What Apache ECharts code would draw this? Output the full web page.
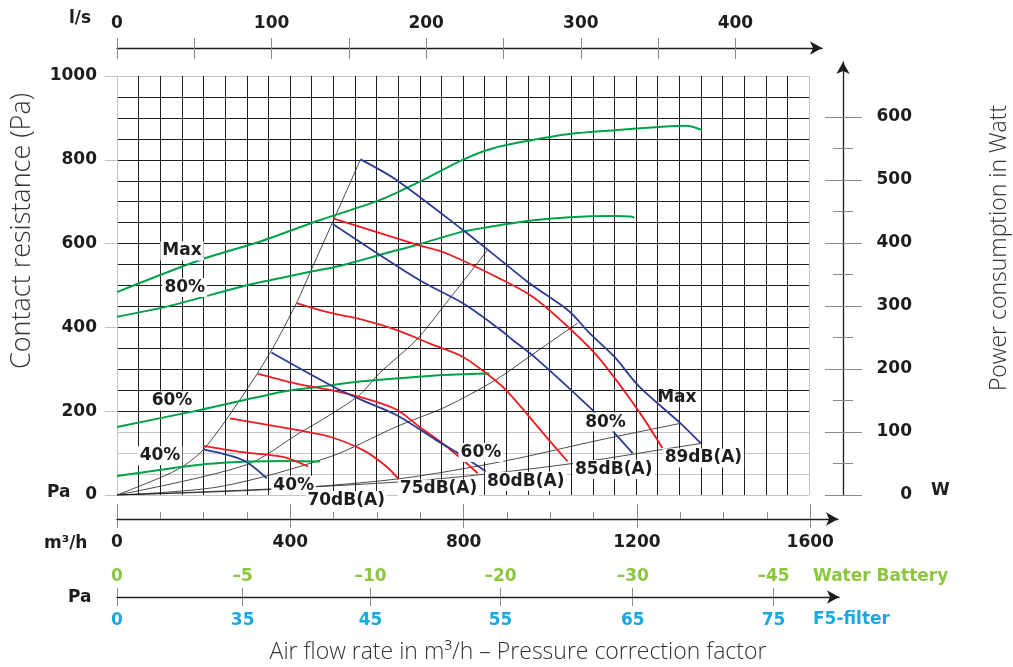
<!DOCTYPE html>
<html>
<head>
<meta charset="utf-8">
<title>Fan curves</title>
<script src="https://cdn.jsdelivr.net/npm/echarts@6/dist/echarts.min.js"></script>
<style>
  html, body { margin: 0; padding: 0; background: #fff; }
  #chart { width: 1013px; height: 667px; }
</style>
</head>
<body>
<div id="chart"></div>
<script>
// axis ticks / labels
const flowLabels = [0, 400, 800, 1200, 1600]
const flowTicks = [0, 100, 200, 300, 400, 500, 600, 700, 800, 900, 1000, 1100, 1200, 1300, 1400, 1500, 1600]
const lsLabels = [0, 100, 200, 300, 400]
const lsTicks = [0, 50, 100, 150, 200, 250, 300, 350, 400]
const wattMajor = [0, 100, 200, 300, 400, 500, 600]
const wattMinor = [50, 150, 250, 350, 450, 550]

// pressure correction factors (flow m3/h -> Pa)
const corrFlow = [0, 290, 585, 885, 1190, 1515]
const waterPa = [0, -5, -10, -20, -30, -45]
const filterPa = [0, 35, 45, 55, 65, 75]

// power consumption [m3/h, W]
const powerMax = [[0, 322], [192, 373], [330, 402], [468, 436], [607, 468], [699, 497], [799, 532], [868, 550], [949, 562], [1046, 573], [1150, 579], [1253, 584], [1316, 586], [1353, 579]]
const power80 = [[0, 283], [115, 299], [307, 334], [376, 344], [452, 355], [499, 361], [561, 372], [607, 381], [699, 398], [799, 418], [884, 428], [949, 435], [1046, 441], [1150, 443], [1188, 442], [1196, 440]]
const power60 = [[0, 108], [192, 135], [392, 165], [492, 174], [561, 180], [722, 189], [815, 192], [861, 193]]
const power40 = [[0, 30], [192, 48], [307, 53], [399, 54], [469, 53]]

// fan curves [m3/h, Pa]
const fanMax = [[563, 801], [646, 752], [799, 633], [884, 563], [949, 509], [976, 489], [1046, 438], [1092, 387], [1150, 330], [1207, 259], [1303, 171], [1350, 123]]
const fan80 = [[499, 647], [699, 513], [799, 458], [884, 396], [915, 370], [969, 326], [1099, 203], [1142, 157], [1192, 100]]
const fan60 = [[357, 340], [499, 259], [565, 227], [646, 191], [738, 131], [788, 100], [853, 56]]
const fan40 = [[199, 109], [292, 83], [346, 40]]

// sound levels [m3/h, Pa]
const noise89 = [[499, 660], [695, 597], [761, 577], [884, 517], [961, 473], [1046, 398], [1115, 326], [1207, 199], [1261, 112]]
const noise85 = [[415, 458], [492, 435], [569, 418], [646, 394], [722, 362], [799, 330], [853, 291], [899, 251], [953, 187], [999, 131], [1042, 80]]
const noise80 = [[326, 289], [422, 264], [492, 251], [569, 232], [646, 204], [699, 163], [753, 123], [799, 84], [834, 52]]
const noise75 = [[261, 183], [422, 154], [492, 139], [569, 107], [623, 68], [651, 38]]
const noise70 = [[199, 117], [284, 103], [384, 91], [442, 68]]

// system curves [m3/h, Pa]
const sysA = [[0, 0], [99, 41], [152, 68], [203, 112], [284, 227], [353, 338], [415, 458], [446, 530], [499, 652], [563, 801]]
const sysB = [[0, 0], [299, 72], [422, 148], [492, 191], [561, 239], [607, 291], [692, 370], [761, 458], [857, 585]]
const sysC = [[0, 0], [238, 20], [492, 91], [646, 163], [761, 211], [876, 275], [953, 330], [1065, 410]]
const sysD = [[0, 0], [350, 13], [646, 38], [891, 80], [1115, 131], [1303, 171]]
const sysE = [[0, 0], [345, 14], [715, 36], [1030, 72], [1300, 115], [1350, 123]]

const INK = '#1d1d1b'
const GRAY = '#c4c4c4'
const TICK = '#8a8a8a'
const BLUE = '#2e3a92'
const RED = '#ec1c24'
const GREEN = '#00a14b'
const WATER = '#8cc63f'
const FILTER = '#1ba8dd'
const FONT = 'DejaVu Sans'
const THIN = 'Open Sans'

const paGridColors = []
for (let v = 0; v <= 1000; v += 50) paGridColors.push(v < 200 || v === 1000 ? GRAY : INK)
const flowGridColors = []
for (let v = 0; v <= 1600; v += 50) flowGridColors.push(v === 0 || v === 1600 ? GRAY : INK)

const last = arr => arr[arr.length - 1]
const plain = v => String(v)
const labelText = { fontSize: 17, fontFamily: FONT, fontWeight: 'bold', color: INK }
const arrow = { onZero: false, symbol: ['none', 'arrow'], symbolSize: [10, 12], lineStyle: { color: INK, width: 1.3 } }
const noLine = { show: false, onZero: false }

function hiddenAxis(gridIndex) {
  return { gridIndex, type: 'value', show: false, min: 0, max: 1 }
}

function curve(data, color, width, yAxisIndex, z) {
  return {
    type: 'line',
    xAxisIndex: 0,
    yAxisIndex,
    data,
    smooth: 0.3,
    symbol: 'none',
    silent: true,
    z,
    lineStyle: { color, width }
  }
}

function tag(point, text, offset, bg) {
  return {
    value: point,
    label: { formatter: text, offset, backgroundColor: bg ? '#fff' : 'transparent' }
  }
}

function text(x, y, str, fill, size, extra) {
  return Object.assign({
    type: 'text', x, y,
    style: { text: str, textAlign: 'left', textVerticalAlign: 'middle', fill, fontSize: size, fontWeight: 'bold', fontFamily: FONT }
  }, extra || {})
}

const chart = echarts.init(document.getElementById('chart'))

chart.setOption({
  animation: false,
  backgroundColor: '#fff',
  grid: [
    { left: 117, top: 76, width: 692, height: 419, outerBoundsMode: 'none' },
    { left: 843, top: 62, width: 1, height: 433, outerBoundsMode: 'none' },
    { left: 117, top: 48, width: 705, height: 1, outerBoundsMode: 'none' },
    { left: 117, top: 519, width: 721, height: 1, outerBoundsMode: 'none' },
    { left: 117, top: 597, width: 722, height: 1, outerBoundsMode: 'none' }
  ],
  xAxis: [
    {
      gridIndex: 0, type: 'value', min: 0, max: 1600, interval: 50, position: 'bottom',
      axisLine: noLine, axisTick: { show: false }, axisLabel: { show: false },
      splitLine: { show: true, lineStyle: { color: flowGridColors, width: 1 } }
    },
    hiddenAxis(1),
    {
      gridIndex: 2, type: 'value', min: 0, max: 456, interval: 50, position: 'top',
      axisLine: arrow,
      axisTick: { customValues: lsTicks, length: 10, lineStyle: { color: TICK } },
      axisLabel: Object.assign({ customValues: lsLabels, margin: 16, formatter: plain }, labelText),
      splitLine: { show: false }
    },
    {
      gridIndex: 2, type: 'value', min: 0, max: 456, interval: 50, position: 'top',
      axisLine: noLine,
      axisTick: { inside: true, customValues: lsTicks, length: 11, lineStyle: { color: TICK } },
      axisLabel: { show: false }, splitLine: { show: false }
    },
    {
      gridIndex: 3, type: 'value', min: 0, max: 1664, interval: 100, position: 'top',
      axisLine: arrow,
      axisTick: { customValues: flowTicks, length: 7, lineStyle: { color: TICK } },
      axisLabel: { show: false }, splitLine: { show: false }
    },
    {
      gridIndex: 3, type: 'value', min: 0, max: 1664, interval: 400, position: 'top',
      axisLine: noLine,
      axisTick: { customValues: flowLabels, length: 15, lineStyle: { color: TICK } },
      axisLabel: { show: false }, splitLine: { show: false }
    },
    {
      gridIndex: 3, type: 'value', min: 0, max: 1664, interval: 400, position: 'bottom',
      axisLine: noLine,
      axisTick: { customValues: flowLabels, length: 8, lineStyle: { color: TICK } },
      axisLabel: Object.assign({ customValues: flowLabels, margin: 14, formatter: plain }, labelText),
      splitLine: { show: false }
    },
    {
      gridIndex: 4, type: 'value', min: 0, max: 1666, position: 'top',
      axisLine: arrow,
      axisTick: { customValues: corrFlow, length: 9, lineStyle: { color: TICK } },
      axisLabel: Object.assign({}, labelText, {
        customValues: corrFlow, margin: 12, color: WATER,
        formatter: v => String(waterPa[corrFlow.indexOf(v)]).replace('-', '–')
      }),
      splitLine: { show: false }
    },
    {
      gridIndex: 4, type: 'value', min: 0, max: 1666, position: 'bottom',
      axisLine: noLine,
      axisTick: { customValues: corrFlow, length: 8, lineStyle: { color: TICK } },
      axisLabel: Object.assign({}, labelText, {
        customValues: corrFlow, margin: 14, color: FILTER,
        formatter: v => String(filterPa[corrFlow.indexOf(v)])
      }),
      splitLine: { show: false }
    }
  ],
  yAxis: [
    {
      gridIndex: 0, type: 'value', min: 0, max: 1000, interval: 50, position: 'left',
      axisLine: noLine, axisTick: { show: false }, axisLabel: { show: false },
      splitLine: { show: true, lineStyle: { color: paGridColors, width: 1 } }
    },
    {
      gridIndex: 0, type: 'value', min: 0, max: 1000, interval: 200, position: 'left',
      axisLine: noLine,
      axisTick: { show: true, length: 12, lineStyle: { color: GRAY } },
      axisLabel: Object.assign({ margin: 20, formatter: plain }, labelText),
      splitLine: { show: false }
    },
    { gridIndex: 0, type: 'value', min: 0, max: 665, position: 'right', show: false },
    {
      gridIndex: 1, type: 'value', min: 0, max: 687, interval: 100, position: 'left',
      axisLine: arrow,
      axisTick: { customValues: wattMajor, length: 18, lineStyle: { color: TICK } },
      axisLabel: Object.assign({ customValues: wattMajor, inside: true, margin: 69, align: 'right', formatter: plain }, labelText),
      splitLine: { show: false }
    },
    {
      gridIndex: 1, type: 'value', min: 0, max: 687, interval: 100, position: 'left',
      axisLine: noLine,
      axisTick: { inside: true, customValues: wattMajor, length: 19, lineStyle: { color: TICK } },
      axisLabel: { show: false }, splitLine: { show: false }
    },
    {
      gridIndex: 1, type: 'value', min: 0, max: 687, interval: 100, position: 'left',
      axisLine: noLine,
      axisTick: { customValues: wattMinor, length: 10, lineStyle: { color: TICK } },
      axisLabel: { show: false }, splitLine: { show: false }
    },
    {
      gridIndex: 1, type: 'value', min: 0, max: 687, interval: 100, position: 'left',
      axisLine: noLine,
      axisTick: { inside: true, customValues: wattMinor, length: 10, lineStyle: { color: TICK } },
      axisLabel: { show: false }, splitLine: { show: false }
    },
    hiddenAxis(2),
    hiddenAxis(3),
    hiddenAxis(4)
  ],
  graphic: [
    text(69, 19, 'l/s', INK, 17),
    text(47, 493, 'Pa', INK, 17),
    text(44, 544, 'm³/h', INK, 17),
    text(68, 598, 'Pa', INK, 17),
    text(931, 491, 'W', INK, 17),
    text(813, 577, 'Water Battery', WATER, 17),
    text(813, 620, 'F5-filter', FILTER, 17),
    {
      type: 'text', x: 22, y: 231, rotation: Math.PI / 2,
      style: { text: 'Contact resistance (Pa)', textAlign: 'center', textVerticalAlign: 'middle', fill: '#333', fontSize: 27, fontWeight: 300, fontFamily: THIN }
    },
    {
      type: 'text', x: 999, y: 248, rotation: Math.PI / 2,
      style: { text: 'Power consumption in Watt', textAlign: 'center', textVerticalAlign: 'middle', fill: '#333', fontSize: 23, fontWeight: 300, fontFamily: THIN }
    },
    {
      type: 'text', x: 518, y: 652,
      style: { text: 'Air flow rate in m³/h – Pressure correction factor', textAlign: 'center', textVerticalAlign: 'middle', fill: '#333', fontSize: 23, fontWeight: 300, fontFamily: THIN }
    }
  ],
  series: [
    curve(sysA, INK, 0.8, 0, 2),
    curve(sysB, INK, 0.8, 0, 2),
    curve(sysC, INK, 0.8, 0, 2),
    curve(sysD, INK, 0.8, 0, 2),
    curve(sysE, INK, 0.8, 0, 2),
    curve(powerMax, GREEN, 2, 2, 3),
    curve(power80, GREEN, 2, 2, 3),
    curve(power60, GREEN, 2, 2, 3),
    curve(power40, GREEN, 2, 2, 3),
    curve(noise89, RED, 1.8, 0, 4),
    curve(noise85, RED, 1.8, 0, 4),
    curve(noise80, RED, 1.8, 0, 4),
    curve(noise75, RED, 1.8, 0, 4),
    curve(noise70, RED, 1.8, 0, 4),
    curve(fanMax, BLUE, 1.8, 0, 5),
    curve(fan80, BLUE, 1.8, 0, 5),
    curve(fan60, BLUE, 1.8, 0, 5),
    curve(fan40, BLUE, 1.8, 0, 5),
    {
      type: 'scatter', xAxisIndex: 0, yAxisIndex: 0, symbolSize: 0, silent: true, z: 10,
      itemStyle: { opacity: 1 },
      label: Object.assign({ show: true, position: 'inside', padding: [1, 2], textBorderWidth: 0 }, labelText),
      data: [
        tag(last(fan40), '40%', [27, 7], true),
        tag(last(fan60), '60%', [-5, -19], true),
        tag(last(fan80), '80%', [-27, -31], true),
        tag(last(fanMax), 'Max', [-24, -46], false),
        tag(last(noise70), '70dB(A)', [38, 34], true),
        tag(last(noise75), '75dB(A)', [40, 10], true),
        tag(last(noise80), '80dB(A)', [48, 8], true),
        tag(last(noise85), '85dB(A)', [46, 8], true),
        tag(last(noise89), '89dB(A)', [41, 10], true)
      ]
    },
    {
      type: 'scatter', xAxisIndex: 0, yAxisIndex: 2, symbolSize: 0, silent: true, z: 10,
      itemStyle: { opacity: 1 },
      label: Object.assign({ show: true, position: 'inside', padding: [1, 2], textBorderWidth: 0 }, labelText),
      data: [
        tag(powerMax[1], 'Max', [-18, -9], true),
        tag(power80[1], '80%', [18, -19], true),
        tag(power60[1], '60%', [-28, -9], true),
        tag(power40[1], '40%', [-40, -9], true)
      ]
    }
  ]
})
</script>
</body>
</html>
